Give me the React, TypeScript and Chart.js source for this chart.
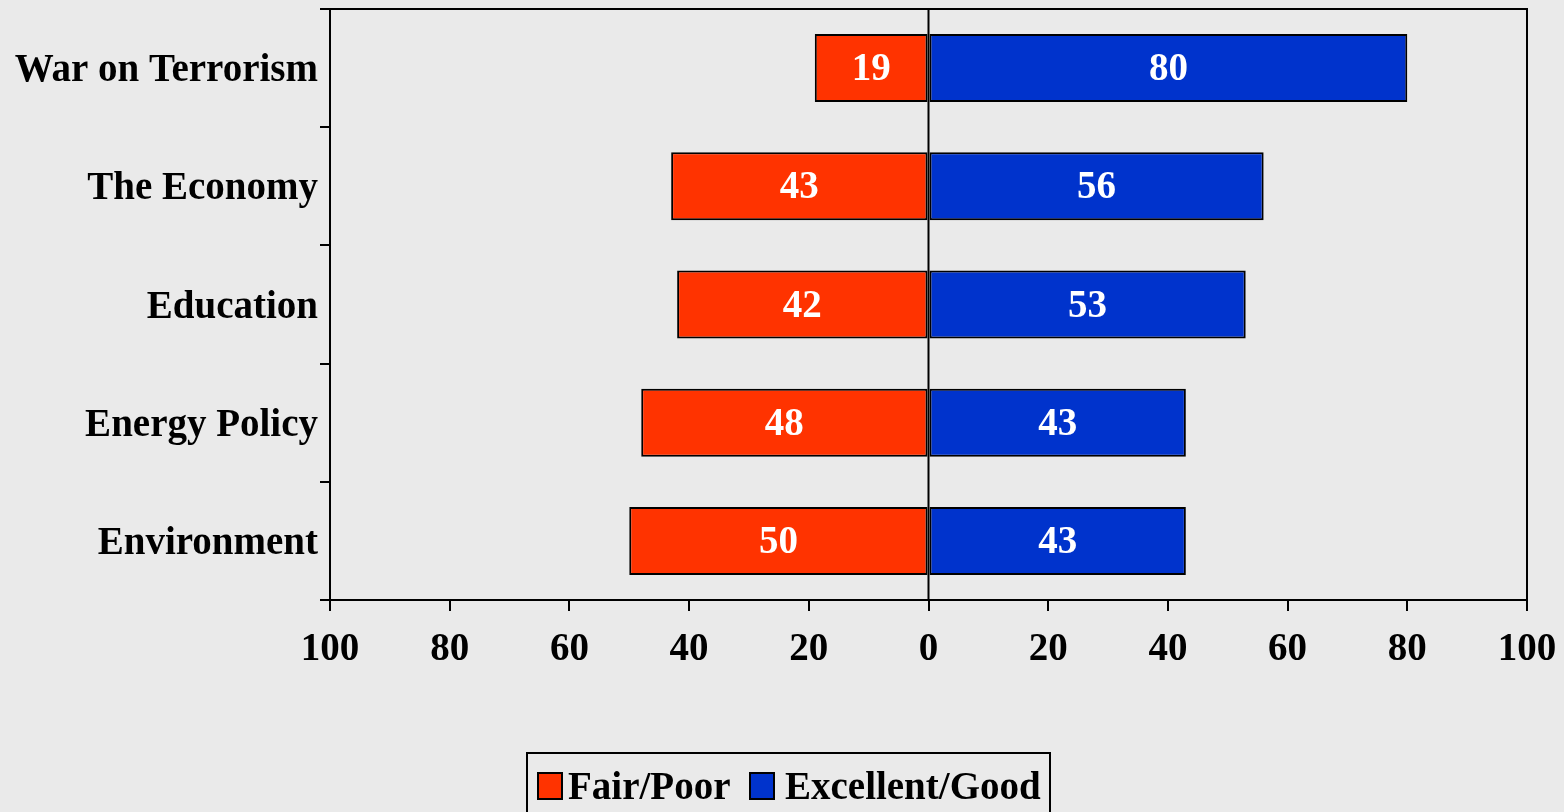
import React, { useEffect, useRef } from "react";
import { Chart, registerables } from "chart.js";

Chart.register(...registerables);

const categories = ["War on Terrorism", "The Economy", "Education", "Energy Policy", "Environment"];
const fairPoor = [19, 43, 42, 48, 50];
const excellentGood = [80, 56, 53, 43, 43];
const seriesNames = ["Fair/Poor", "Excellent/Good"];
const seriesColors = ["#FF3300", "#0033CC"];
const axisMin = -100;
const axisMax = 100;
const axisStep = 20;

const FONT = "'Liberation Serif', 'Times New Roman', serif";
const FS = 39;
const BG = "#EAEAEA";

const bgPlugin = {
  id: "bgPlugin",
  beforeDraw(chart: any) {
    const ctx = chart.ctx;
    ctx.save();
    ctx.fillStyle = BG;
    ctx.fillRect(0, 0, chart.width, chart.height);
    ctx.restore();
  },
};

const framePlugin = {
  id: "framePlugin",
  afterDraw(chart: any) {
    const { ctx, chartArea } = chart;
    const x0 = chart.scales.x.getPixelForValue(0);
    ctx.save();
    ctx.strokeStyle = "#000";
    ctx.lineWidth = 2;
    ctx.beginPath();
    ctx.moveTo(chartArea.left, chartArea.top);
    ctx.lineTo(chartArea.right, chartArea.top);
    ctx.lineTo(chartArea.right, chartArea.bottom);
    ctx.stroke();
    ctx.beginPath();
    ctx.moveTo(x0, chartArea.top);
    ctx.lineTo(x0, chartArea.bottom);
    ctx.stroke();
    ctx.restore();
  },
};

const labelPlugin = {
  id: "labelPlugin",
  afterDatasetsDraw(chart: any) {
    const ctx = chart.ctx;
    ctx.save();
    ctx.fillStyle = "#fff";
    ctx.font = `bold ${FS}px ${FONT}`;
    ctx.textAlign = "center";
    ctx.textBaseline = "middle";
    chart.data.datasets.forEach((ds: any, di: number) => {
      const meta = chart.getDatasetMeta(di);
      meta.data.forEach((el: any, i: number) => {
        const v = Math.abs(ds.data[i]);
        const p = el.getCenterPoint();
        ctx.fillText(String(v), p.x, p.y + 2);
      });
    });
    ctx.restore();
  },
};

const legendPlugin = {
  id: "legendPlugin",
  afterDraw(chart: any) {
    const ctx = chart.ctx;
    ctx.save();
    ctx.font = `bold ${FS}px ${FONT}`;
    const boxX = 527;
    const boxY = 753;
    const boxW = 523;
    const boxH = 80;
    const squareX = [538, 750];
    const textX = [568, 785];
    const sqW = 24;
    const sqH = 26;
    const sqY = 773;
    const textY = 789;
    ctx.strokeStyle = "#000";
    ctx.lineWidth = 2;
    ctx.strokeRect(boxX, boxY, boxW, boxH);
    chart.data.datasets.forEach((ds: any, i: number) => {
      ctx.fillStyle = ds.backgroundColor;
      ctx.fillRect(squareX[i], sqY, sqW, sqH);
      ctx.strokeStyle = "#000";
      ctx.lineWidth = 2;
      ctx.strokeRect(squareX[i], sqY, sqW, sqH);
      ctx.fillStyle = "#000";
      ctx.textAlign = "left";
      ctx.textBaseline = "middle";
      ctx.fillText(ds.label, textX[i], textY);
    });
    ctx.restore();
  },
};

export default function App() {
  const ref = useRef<HTMLCanvasElement | null>(null);

  useEffect(() => {
    if (!ref.current) return;
    const chart = new Chart(ref.current, {
      type: "bar",
      data: {
        labels: categories,
        datasets: [
          {
            label: seriesNames[0],
            data: fairPoor.map((v) => -v),
            backgroundColor: seriesColors[0],
            borderColor: "#000",
            borderWidth: 2,
            borderSkipped: false,
            categoryPercentage: 1,
            barPercentage: 0.575,
          },
          {
            label: seriesNames[1],
            data: excellentGood,
            backgroundColor: seriesColors[1],
            borderColor: "#000",
            borderWidth: 2,
            borderSkipped: false,
            categoryPercentage: 1,
            barPercentage: 0.575,
          },
        ],
      },
      options: {
        indexAxis: "y",
        animation: false,
        responsive: false,
        devicePixelRatio: 1,
        layout: { padding: { top: 9, right: 37, left: 0, bottom: 0 } },
        plugins: {
          legend: { display: false },
          tooltip: { enabled: false },
        },
        scales: {
          x: {
            stacked: true,
            min: axisMin,
            max: axisMax,
            afterFit(scale: any) {
              scale.height = 212;
              scale.paddingLeft = 0;
              scale.paddingRight = 0;
            },
            ticks: {
              stepSize: axisStep,
              color: "#000",
              padding: 16,
              maxRotation: 0,
              autoSkip: false,
              font: { family: FONT, size: FS, weight: "bold" },
              callback: (v: any) => String(Math.abs(Number(v))),
            },
            grid: {
              drawOnChartArea: false,
              drawTicks: true,
              tickLength: 11,
              color: "#000",
              lineWidth: 2,
            },
            border: { display: true, color: "#000", width: 2 },
          },
          y: {
            stacked: true,
            afterFit(scale: any) {
              scale.width = 330;
              scale.paddingTop = 0;
              scale.paddingBottom = 0;
            },
            ticks: {
              color: "#000",
              padding: 2,
              labelOffset: 3,
              font: { family: FONT, size: FS, weight: "bold" },
            },
            grid: {
              offset: true,
              drawOnChartArea: false,
              drawTicks: true,
              tickLength: 10,
              color: "#000",
              lineWidth: 2,
            },
            border: { display: true, color: "#000", width: 2 },
          },
        },
      },
      plugins: [bgPlugin, labelPlugin, framePlugin, legendPlugin],
    } as any);
    return () => chart.destroy();
  }, []);

  return (
    <div style={{ position: "absolute", left: 0, top: 0, width: 1564, height: 812, background: BG }}>
      <canvas ref={ref} width={1564} height={812} />
    </div>
  );
}
